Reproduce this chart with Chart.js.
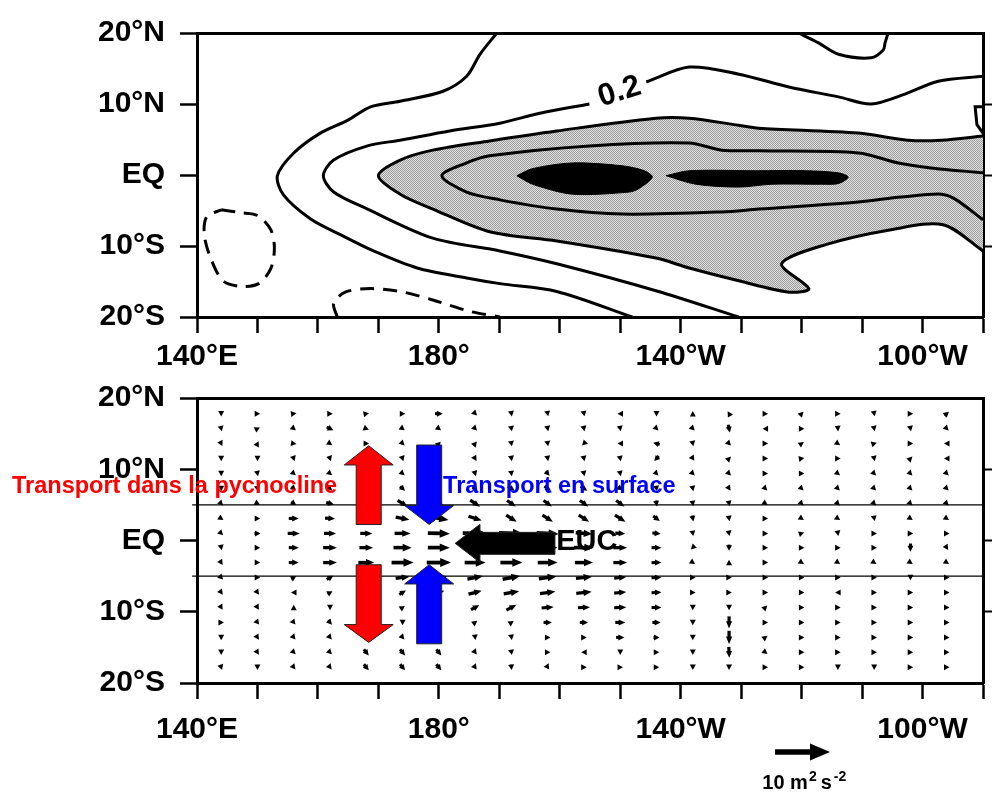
<!DOCTYPE html>
<html>
<head>
<meta charset="utf-8">
<script src="https://cdn.jsdelivr.net/npm/chart.js@4.4.1/dist/chart.umd.min.js"></script>
<style>
  html, body { margin: 0; padding: 0; background: #fff; }
  #wrap { position: relative; width: 992px; height: 793px; }
  canvas { position: absolute; left: 0; }
  #topChart { top: 0; }
  #bottomChart { top: 365px; }
</style>
</head>
<body>
<div id="wrap">
  <canvas id="topChart" width="992" height="380"></canvas>
  <canvas id="bottomChart" width="992" height="428"></canvas>
</div>
<script>
// --- axes
const lonTickValues = [140, 180, 220, 260];
const lonTickText = ['140°E', '180°', '140°W', '100°W'];
const latTickValues = [20, 10, 0, -10, -20];
const latTickText = ['20°N', '10°N', 'EQ', '10°S', '20°S'];

// --- top panel contours, [lon °E, lat °N]
const contourOuter = [[189.6, 20], [186.8, 17.0], [184.6, 13.9], [180.7, 11.8], [173.6, 10.4], [168.7, 9.6],
  [164.9, 7.7], [160.4, 5.9], [156.0, 3.1], [153.3, -0.1], [154.3, -2.8], [158.8, -6.2], [163.7, -8.4],
  [169.2, -10.7], [176.4, -13.1], [184.6, -14.5], [190.1, -15.3], [199.5, -16.4], [212.0, -20]];
const contour02 = [[270, 13.9], [262.6, 13.2], [257.1, 11.4], [251.5, 10.0], [246.1, 11.0], [237.9, 12.4],
  [229.6, 14.2], [221.4, 15.2], [214.3, 13.1], null, [204.9, 10.0], [196.7, 8.7], [190.1, 7.3], [181.8, 6.2],
  [173.6, 4.9], [168.2, 4.1], [162.6, 2.1], [160.9, -0.1], [162.6, -2.4], [168.2, -4.8], [179.0, -8.9],
  [190.1, -10.7], [199.5, -12.5], [215.9, -16.3], [229.6, -20]];
const contourShade = [[270, 5.5], [263.1, 4.9], [257.6, 4.9], [249.4, 5.9], [232.9, 6.6], [229.6, 7.0],
  [221.4, 8.0], [215.9, 8.0], [199.5, 6.2], [188.4, 4.8], [179.0, 3.5], [173.6, 2.1], [170.0, -0.1],
  [173.6, -2.7], [179.0, -4.8], [188.4, -8.0], [199.5, -9.3], [215.9, -11.7], [221.4, -13.1], [229.6, -14.9],
  [237.9, -16.5], [241.2, -16.0], [236.7, -12.5], [244.0, -9.8], [254.8, -7.7], [263.4, -7.0], [270, -10.7]];
const contourInner = [[270, 0.3], [261.4, 1.0], [256.0, 1.7], [249.4, 3.1], [232.9, 3.4], [226.8, 3.5],
  [221.4, 4.5], [204.9, 4.1], [188.4, 2.7], [184.6, 1.7], [180.5, -0.1], [184.6, -2.4], [190.1, -3.5],
  [199.5, -4.8], [210.3, -5.5], [226.8, -5.2], [232.9, -4.8], [249.4, -3.8], [256.5, -3.1], [263.1, -2.7],
  [265.4, -3.4], [270, -6.3]];
const coreWest = [[192.9, -0.1], [195.5, 0.9], [202.1, 1.7], [210.3, 1.3], [214.0, 0.6], [215.3, -0.3],
  [213.1, -1.9], [211.5, -2.4], [202.1, -2.7], [195.5, -1.3], [192.9, -0.1]];
const coreEast = [[217.6, -0.1], [221.4, 0.6], [232.4, 0.6], [240.7, 0.6], [246.1, 0.3], [247.7, -0.3],
  [246.1, -1.2], [243.3, -1.3], [235.1, -1.3], [229.6, -1.7], [222.5, -1.3], [217.6, -0.1]];
const contourNE = [[239.5, 20], [242.8, 18.6], [246.1, 17.0], [251.5, 16.5], [253.5, 17.6], [253.8, 18.6], [254.3, 20]];
const edgeNotch = [[270, 9.6], [268.7, 9.6], [269.0, 7.1], [270, 5.9]];
const dashedWest = [[144.0, -4.9], [147.2, -5.3], [150.0, -5.7], [152.2, -7.7], [152.8, -10.3], [152.2, -13.2],
  [150.2, -15.3], [147.2, -15.7], [144.3, -14.9], [142.3, -11.8], [141.2, -8.4], [141.6, -5.9], [144.0, -4.9]];
const dashedSouth = [[163.2, -20], [162.6, -18.1], [164.5, -16.5], [168.7, -16.0], [173.6, -16.4],
  [179.0, -17.6], [185.1, -19.2], [190.1, -20]];

// --- bottom panel vectors (m2 s-2), rows north to south
const vecLons = [144, 150, 156, 162, 168, 174, 180, 186, 192, 198, 204, 210, 216, 222, 228, 234, 240, 246, 252, 258, 264];
const vecLats = [17.8, 15.7, 13.6, 11.5, 9.4, 7.3, 5.2, 3.1, 1.0, -1.0, -3.1, -5.2, -7.3, -9.4, -11.5, -13.6, -15.7, -17.8];
const vecU = [
  [0.0, 0.8, 0.7, 0.7, 0.5, 0.7, 1.4, 0.5, 0.1, 0.1, 0.1, -0.5, 0.0, 0.0, -0.3, 0.5, 0.4, 0.5, 0.1, 0.6, 0.8],
  [0.1, 0.4, 0.5, 1.2, 0.5, 0.4, 0.4, 0.4, 0.1, 0.1, 0.1, 0.1, 0.3, 0.3, 0.3, -0.5, 0.1, 0.1, 0.1, 0.1, 0.3],
  [0.2, 0.3, 0.6, 0.6, 1.0, 0.3, 0.4, 0.5, 0.1, 0.1, -0.4, -0.6, -1.2, 0.1, 0.4, 0.2, 0.3, 0.3, 0.3, 0.3, -1.0],
  [0.0, 0.0, 0.2, 0.2, 0.2, 0.2, 0.2, 0.3, 0.1, 0.1, 0.1, 0.1, -0.8, 0.2, 0.2, 0.6, 0.6, 0.6, 0.1, 0.2, -0.6],
  [0.0, 0.1, 0.6, 0.6, 0.6, 0.7, 0.6, 0.2, 0.1, 0.7, 0.1, 0.1, 0.2, 0.3, 0.2, 0.6, 0.6, 0.4, 0.3, 0.3, 0.3],
  [0.0, 0.1, 0.8, 0.8, 0.9, 0.9, 1.0, 0.9, 1.2, 1.2, 1.2, 0.9, 0.1, 0.1, 0.2, 0.3, 0.3, 0.3, 0.3, 0.3, 0.3],
  [0.2, 0.4, 0.9, 1.4, 1.6, 1.8, 2.0, 1.8, 1.6, 1.5, 1.5, 1.5, 0.2, 0.1, 0.1, 0.3, 0.3, 0.3, 0.3, 0.3, 0.3],
  [0.3, 0.8, 1.8, 1.8, 2.2, 2.5, 3.5, 2.4, 1.9, 1.9, 1.9, 1.9, 1.2, 0.2, 0.1, 0.2, 0.3, 0.3, 0.1, 0.3, 0.3],
  [0.4, 1.1, 2.2, 2.2, 2.2, 2.9, 4.0, 4.5, 4.5, 4.0, 3.0, 1.8, 1.5, 0.1, 0.1, 0.3, 0.3, 0.1, 0.3, 0.3, 0.3],
  [0.1, 0.5, 1.8, 2.5, 2.5, 3.3, 4.0, 4.5, 4.0, 3.6, 3.6, 2.5, 1.8, -0.4, 0.0, 0.2, 0.2, 0.2, 0.2, 0.0, 0.2],
  [0.2, 0.8, 1.8, 2.5, 2.9, 4.0, 4.4, 3.8, 4.0, 3.6, 3.3, 2.5, 1.8, 0.3, 0.0, 0.5, 0.3, 0.3, 0.3, 0.3, 0.3],
  [0.3, 0.3, 0.9, 1.2, 2.0, 2.5, 3.0, 2.8, 3.2, 3.2, 2.9, 2.2, 1.8, 0.3, 0.2, 0.3, 0.3, 0.3, 0.3, 0.0, 0.3],
  [0.3, 0.3, -0.5, 0.9, 1.1, 1.2, 2.0, 2.4, 2.8, 2.8, 2.8, 2.2, 1.8, 0.3, 0.5, 0.3, 0.3, -0.5, 0.3, 0.3, 0.3],
  [0.3, 0.3, 0.0, 0.0, 0.3, 0.3, 1.0, 1.5, 1.8, 2.2, 2.2, 2.2, 1.8, 0.0, 0.0, 0.4, 0.3, 0.3, 0.3, 0.3, 0.3],
  [1.0, 0.4, 0.4, 0.7, 0.5, 0.0, 0.4, 0.8, 0.3, 1.5, 1.5, 1.8, 1.5, 0.0, 0.0, 0.3, 0.3, 0.3, 0.3, 0.3, 0.3],
  [0.0, 0.2, 0.5, 0.5, 0.6, 0.6, 0.4, 0.1, 0.1, 0.3, 0.3, 1.5, 1.1, 0.0, 0.0, 0.8, 0.3, 0.3, 0.3, 0.3, 0.3],
  [0.0, 0.2, 0.6, 0.6, 0.9, 0.9, 0.9, 0.6, 0.1, 0.5, -0.5, 0.0, 0.3, 0.0, 0.1, 0.8, 0.3, 0.3, 0.3, 0.3, 0.3],
  [0.1, 0.0, 0.4, 0.4, 0.9, 0.9, 0.9, 0.6, 0.1, 0.2, 0.3, 0.3, 0.3, 0.0, 0.0, 0.3, 0.3, 0.0, 0.0, 0.3, 0.3]
];
const vecV = [
  [-0.5, 0.0, 0.1, 0.0, 0.1, 0.0, 0.0, -0.5, -0.6, -0.5, -0.5, 0.0, -0.5, 0.5, 0.5, 0.0, 0.4, 0.0, -0.5, 0.0, 0.7],
  [-0.4, 0.2, -0.4, -0.6, -0.2, -0.3, -0.3, -0.4, -0.6, -0.5, -0.5, -0.5, -0.3, -0.3, -1.4, 0.0, 0.0, -1.0, -0.5, -0.5, -0.3],
  [-0.4, 0.6, -0.1, -0.4, 0.0, -0.3, 0.4, 0.6, -0.6, -0.6, -0.4, 0.0, 0.3, -0.5, -0.4, 0.0, 0.2, -0.2, 0.1, 0.0, 0.0],
  [-0.5, -0.4, -0.6, -0.6, -0.6, -0.6, -0.6, -0.5, -0.6, -0.6, -0.5, -0.5, -0.9, -0.3, 0.2, 0.0, 0.1, 0.0, -0.5, 0.2, 0.0],
  [-0.5, -0.5, -0.5, -0.5, -0.5, -0.6, -0.6, -0.6, -0.7, -0.8, -0.5, -0.5, -0.2, -0.3, -0.2, 0.0, 0.0, -0.3, -0.3, -0.3, -0.3],
  [-0.5, -0.5, -0.7, -0.7, -0.7, -0.8, -0.8, -0.9, -0.8, -0.8, -0.8, -0.6, -0.6, -0.5, -0.3, -0.3, -0.3, -0.3, -0.3, -0.3, -0.3],
  [-0.2, -0.2, -0.6, -0.4, -0.8, -1.1, -1.3, -1.2, -1.1, -1.1, -1.1, -1.1, -1.1, -0.6, -0.5, -0.2, -0.3, -0.3, -0.3, -0.3, -0.3],
  [-0.2, 0.0, 0.0, -0.1, -0.2, -0.5, -0.6, -0.8, -1.2, -1.2, -1.2, -1.2, -0.9, -1.1, -0.6, 0.0, -0.2, -0.2, -0.5, -0.2, -0.2],
  [-0.4, 0.0, 0.0, 0.0, 0.0, 0.0, -0.1, -0.1, -0.2, -0.2, -0.2, -0.1, -0.1, -0.6, -0.5, 0.0, 0.1, -0.5, 0.0, 0.0, 0.0],
  [-0.5, 0.0, 0.0, 0.0, 0.0, 0.0, 0.0, 0.0, 0.0, 0.0, 0.0, 0.0, 0.0, -0.4, -1.1, 0.0, 0.0, 0.0, 0.0, -1.5, -0.3],
  [-0.3, 0.0, 0.0, 0.0, 0.0, 0.0, 0.0, 0.0, 0.0, 0.0, 0.0, 0.0, 0.0, -0.2, 0.5, 0.0, -0.2, -0.2, -0.2, -0.2, -0.2],
  [-0.3, 0.0, 0.5, 0.7, 0.6, 0.3, 0.4, 0.6, 0.6, 0.4, 0.3, 0.2, 0.1, 0.0, 0.0, 0.0, 0.0, 0.0, 0.0, -0.5, 0.0],
  [-0.4, -0.4, 0.0, 0.5, 0.5, 0.7, 0.6, 0.6, 0.5, 0.4, 0.3, 0.2, 0.1, 0.0, 0.0, 0.0, 0.0, 0.0, 0.0, 0.0, 0.0],
  [-0.5, -0.5, 0.5, -0.5, 0.0, 0.2, 0.6, 0.8, 1.0, 0.2, 0.1, 0.1, 0.0, -0.5, -0.5, 0.4, 0.0, 0.0, 0.0, 0.0, 0.0],
  [0.0, -0.5, -0.5, -0.8, -0.5, -0.6, 0.4, 0.6, 0.2, 0.0, 0.0, 0.0, 0.0, -0.5, -2.2, 0.0, 0.0, 0.0, 0.0, 0.0, 0.0],
  [-0.5, -0.3, -0.6, -0.6, -0.7, -0.7, -0.5, -0.7, -0.7, 0.0, 0.0, 0.0, 0.0, -0.5, -2.4, 0.6, 0.0, 0.0, 0.0, 0.0, 0.0],
  [-0.6, -0.3, -0.6, -0.6, -1.1, -1.1, -1.1, -0.8, -0.6, 0.0, 0.0, -0.5, 0.0, -0.5, -2.0, -0.6, 0.0, 0.0, 0.0, 0.0, 0.0],
  [-0.3, -0.5, -0.5, -0.5, -1.1, -1.1, -1.1, -0.8, -1.0, -0.3, 0.0, 0.0, 0.0, -0.5, -0.6, 0.0, 0.0, -0.5, -0.5, 0.0, 0.0]
];
const keyValue = 10;           // reference vector, m2 s-2
const bandLats = [5, -5];      // thin lines across the lower panel

// --- styling / placement
const FONT = '"Liberation Sans", Arial, Helvetica, sans-serif';
const ARROW_PX = 5.5;          // pixels per m2 s-2
const transportArrows = [
  { lon: 168.4, tail: 2.25, base: 10.6, tip: 13.3, color: '#ff0000' },
  { lon: 168.4, tail: -3.4, base: -11.8, tip: -14.3, color: '#ff0000' },
  { lon: 178.4, tail: 13.4, base: 4.9, tip: 2.25, color: '#0000ff' },
  { lon: 178.4, tail: -14.5, base: -6.1, tip: -3.4, color: '#0000ff' }
];
const eucArrow = { lat: -0.4, tail: 199.2, base: 186.8, tip: 182.7 };

const lonLabel = (v) => { const i = lonTickValues.indexOf(v); return i < 0 ? '' : lonTickText[i]; };
const latLabel = (v) => { const i = latTickValues.indexOf(v); return i < 0 ? '' : latTickText[i]; };
const toPoints = (arr) => arr.map((p) => p ? { x: p[0], y: p[1] } : { x: 210, y: null });

const makeScales = (labelLineHeight, xHeight) => ({
  x: {
    type: 'linear', position: 'bottom', min: 140, max: 270,
    ticks: { stepSize: 10, autoSkip: false, maxRotation: 0, padding: 6, color: '#000',
      font: { family: FONT, size: 30, weight: 'bold', lineHeight: labelLineHeight }, callback: lonLabel },
    grid: { drawOnChartArea: false, tickLength: 16, tickWidth: 2.5, tickColor: '#000' },
    border: { color: '#000', width: 3 },
    afterFit: (s) => { s.height = xHeight; }
  },
  xTop: {
    type: 'linear', position: 'top', min: 140, max: 270,
    ticks: { display: false }, grid: { drawOnChartArea: false, drawTicks: false },
    border: { color: '#000', width: 3 },
    afterFit: (s) => { s.height = 0; }
  },
  y: {
    type: 'linear', position: 'left', min: -20, max: 20,
    ticks: { stepSize: 10, autoSkip: false, padding: 15, color: '#000',
      font: { family: FONT, size: 30, weight: 'bold' }, callback: latLabel },
    grid: { drawOnChartArea: false, tickLength: 17, tickWidth: 2.5, tickColor: '#000' },
    border: { color: '#000', width: 3 },
    afterFit: (s) => { s.width = 197; }
  },
  yRight: {
    type: 'linear', position: 'right', min: -20, max: 20,
    ticks: { stepSize: 10, display: false },
    grid: { drawOnChartArea: false, tickLength: 9, tickWidth: 2,
      tickColor: (c) => (c.tick && Math.abs(c.tick.value) === 20) ? 'rgba(0,0,0,0)' : '#000' },
    border: { color: '#000', width: 3 },
    afterFit: (s) => { s.width = 9; }
  }
});

// light stipple for the shaded contour band
const stipple = (() => {
  const c = document.createElement('canvas');
  c.width = 2; c.height = 2;
  const g = c.getContext('2d');
  g.fillStyle = '#e0e0e0'; g.fillRect(0, 0, 2, 2);
  g.fillStyle = '#9c9c9c'; g.fillRect(0, 0, 1, 1); g.fillRect(1, 1, 1, 1);
  return g.createPattern(c, 'repeat');
})();

const line = (data, extra) => Object.assign({
  data: toPoints(data), showLine: true, pointRadius: 0, borderColor: '#000',
  borderWidth: 3, tension: 0.3, fill: false
}, extra);

// label on the 0.2 contour
const contourLabel = {
  id: 'contourLabel',
  afterDatasetsDraw(chart) {
    const { ctx, scales: { x, y } } = chart;
    ctx.save();
    ctx.translate(x.getPixelForValue(209.9), y.getPixelForValue(11.7));
    ctx.rotate(-0.3);
    ctx.font = `bold 31px ${FONT}`;
    ctx.fillStyle = '#000';
    ctx.textAlign = 'center';
    ctx.textBaseline = 'middle';
    ctx.fillText('0.2', 0, 0);
    ctx.restore();
  }
};

new Chart(document.getElementById('topChart'), {
  type: 'scatter',
  data: {
    datasets: [
      line(contourOuter),
      line(contour02, { spanGaps: false }),
      line(contourNE),
      line(edgeNotch, { tension: 0 }),
      line(dashedWest, { borderDash: [14, 9] }),
      line(dashedSouth, { borderDash: [14, 9] }),
      line(contourInner),
      line(coreEast, { fill: 'shape', backgroundColor: '#000', borderWidth: 1 }),
      line(coreWest, { fill: 'shape', backgroundColor: '#000', borderWidth: 1 }),
      line(contourShade, { fill: 'shape', backgroundColor: stipple })
    ]
  },
  options: {
    responsive: false, animation: false, events: [],
    layout: { padding: { top: 28, bottom: 0, left: 0, right: 0 } },
    scales: makeScales(1.2, 63),
    plugins: { legend: { display: false }, tooltip: { enabled: false } }
  },
  plugins: [contourLabel]
});

// --- lower panel
const gridPoints = [];
vecLats.forEach((lat, r) => {
  vecLons.forEach((lon, c) => {
    gridPoints.push({ x: lon, y: lat, u: vecU[r][c], v: vecV[r][c] });
  });
});

// arrow centred on (cx, cy); tiny vectors keep a small visible head
const drawVector = (ctx, cx, cy, dx, dy) => {
  const len = Math.hypot(dx, dy);
  if (len < 0.3) { ctx.fillRect(cx - 2, cy - 2, 4, 4); return; }
  const ux = dx / len, uy = dy / len;
  const head = Math.max(5.5, 0.3 * len + 3.5);
  const half = Math.max(3, head * 0.42);
  const span = Math.max(len, head);
  const x0 = cx - ux * span / 2, y0 = cy - uy * span / 2;
  const x1 = cx + ux * span / 2, y1 = cy + uy * span / 2;
  if (span > head) {
    ctx.lineWidth = 2.6 + len * 0.05;
    ctx.beginPath();
    ctx.moveTo(x0, y0);
    ctx.lineTo(x1 - ux * head * 0.8, y1 - uy * head * 0.8);
    ctx.stroke();
  }
  ctx.beginPath();
  ctx.moveTo(x1, y1);
  ctx.lineTo(x1 - ux * head - uy * half, y1 - uy * head + ux * half);
  ctx.lineTo(x1 - ux * head + uy * half, y1 - uy * head - ux * half);
  ctx.closePath();
  ctx.fill();
};

const blockArrow = (ctx, tail, base, tip, shaftHalf, headHalf, color) => {
  const dx = tip.x - tail.x, dy = tip.y - tail.y, L = Math.hypot(dx, dy);
  const nx = -dy / L, ny = dx / L;
  const pts = [
    [tail.x + nx * shaftHalf, tail.y + ny * shaftHalf],
    [base.x + nx * shaftHalf, base.y + ny * shaftHalf],
    [base.x + nx * headHalf, base.y + ny * headHalf],
    [tip.x, tip.y],
    [base.x - nx * headHalf, base.y - ny * headHalf],
    [base.x - nx * shaftHalf, base.y - ny * shaftHalf],
    [tail.x - nx * shaftHalf, tail.y - ny * shaftHalf]
  ];
  ctx.beginPath();
  pts.forEach(([px, py], i) => i ? ctx.lineTo(px, py) : ctx.moveTo(px, py));
  ctx.closePath();
  ctx.fillStyle = color;
  ctx.fill();
  ctx.lineWidth = 1;
  ctx.strokeStyle = '#222';
  ctx.stroke();
};

const quiver = {
  id: 'quiver',
  afterDatasetsDraw(chart) {
    const { ctx } = chart;
    const meta = chart.getDatasetMeta(0);
    ctx.save();
    ctx.fillStyle = '#000';
    ctx.strokeStyle = '#000';
    ctx.lineCap = 'butt';
    meta.data.forEach((pt, i) => {
      const d = chart.data.datasets[0].data[i];
      drawVector(ctx, pt.x, pt.y, d.u * ARROW_PX, -d.v * ARROW_PX);
    });
    ctx.restore();
  }
};

const annotations = {
  id: 'annotations',
  afterDraw(chart) {
    const { ctx, chartArea, scales: { x, y } } = chart;
    ctx.save();
    transportArrows.forEach((a) => {
      const px = x.getPixelForValue(a.lon);
      blockArrow(ctx, { x: px, y: y.getPixelForValue(a.tail) }, { x: px, y: y.getPixelForValue(a.base) },
        { x: px, y: y.getPixelForValue(a.tip) }, 12.5, 24.5, a.color);
    });
    const ey = y.getPixelForValue(eucArrow.lat);
    blockArrow(ctx, { x: x.getPixelForValue(eucArrow.tail), y: ey }, { x: x.getPixelForValue(eucArrow.base), y: ey },
      { x: x.getPixelForValue(eucArrow.tip), y: ey }, 11, 19, '#000');

    ctx.textAlign = 'left';
    ctx.textBaseline = 'alphabetic';
    ctx.font = `bold 23.5px ${FONT}`;
    ctx.fillStyle = '#ff0000';
    ctx.fillText('Transport dans la pycnocline', 12, y.getPixelForValue(6.6));
    ctx.fillStyle = '#0000ff';
    ctx.fillText('Transport en surface', x.getPixelForValue(180.7), y.getPixelForValue(6.6));
    ctx.font = `bold 29px ${FONT}`;
    ctx.fillStyle = '#000';
    ctx.fillText('EUC', x.getPixelForValue(199.4), y.getPixelForValue(-1.3));

    // reference vector
    ctx.fillStyle = '#000';
    ctx.strokeStyle = '#000';
    const keyLen = keyValue * ARROW_PX;
    drawVector(ctx, x.getPixelForValue(235.6) + keyLen / 2, chartArea.bottom + 69, keyLen, 0);
    let tx = x.getPixelForValue(233.5);
    const ty = chartArea.bottom + 106;
    const parts = [['10 m', 20, 0, 1], ['2', 14, -8, 4], ['s', 20, 0, 2], ['-2', 14, -8, 0]];
    parts.forEach(([t, size, dy, gap]) => {
      ctx.font = `bold ${size}px ${FONT}`;
      ctx.fillText(t, tx, ty + dy);
      tx += ctx.measureText(t).width + gap;
    });
    ctx.restore();
  }
};

new Chart(document.getElementById('bottomChart'), {
  type: 'scatter',
  data: {
    datasets: [
      { data: gridPoints, pointRadius: 0 },
      ...bandLats.map((lat) => ({
        data: [{ x: 139.2, y: lat }, { x: 270, y: lat }], showLine: true, pointRadius: 0,
        borderColor: '#000', borderWidth: 1.2, clip: { left: 8, top: 0, right: 0, bottom: 0 }
      }))
    ]
  },
  options: {
    responsive: false, animation: false, events: [],
    layout: { padding: { top: 28, bottom: 0, left: 0, right: 0 } },
    scales: makeScales(1.63, 110),
    plugins: { legend: { display: false }, tooltip: { enabled: false } }
  },
  plugins: [quiver, annotations]
});
</script>
</body>
</html>
